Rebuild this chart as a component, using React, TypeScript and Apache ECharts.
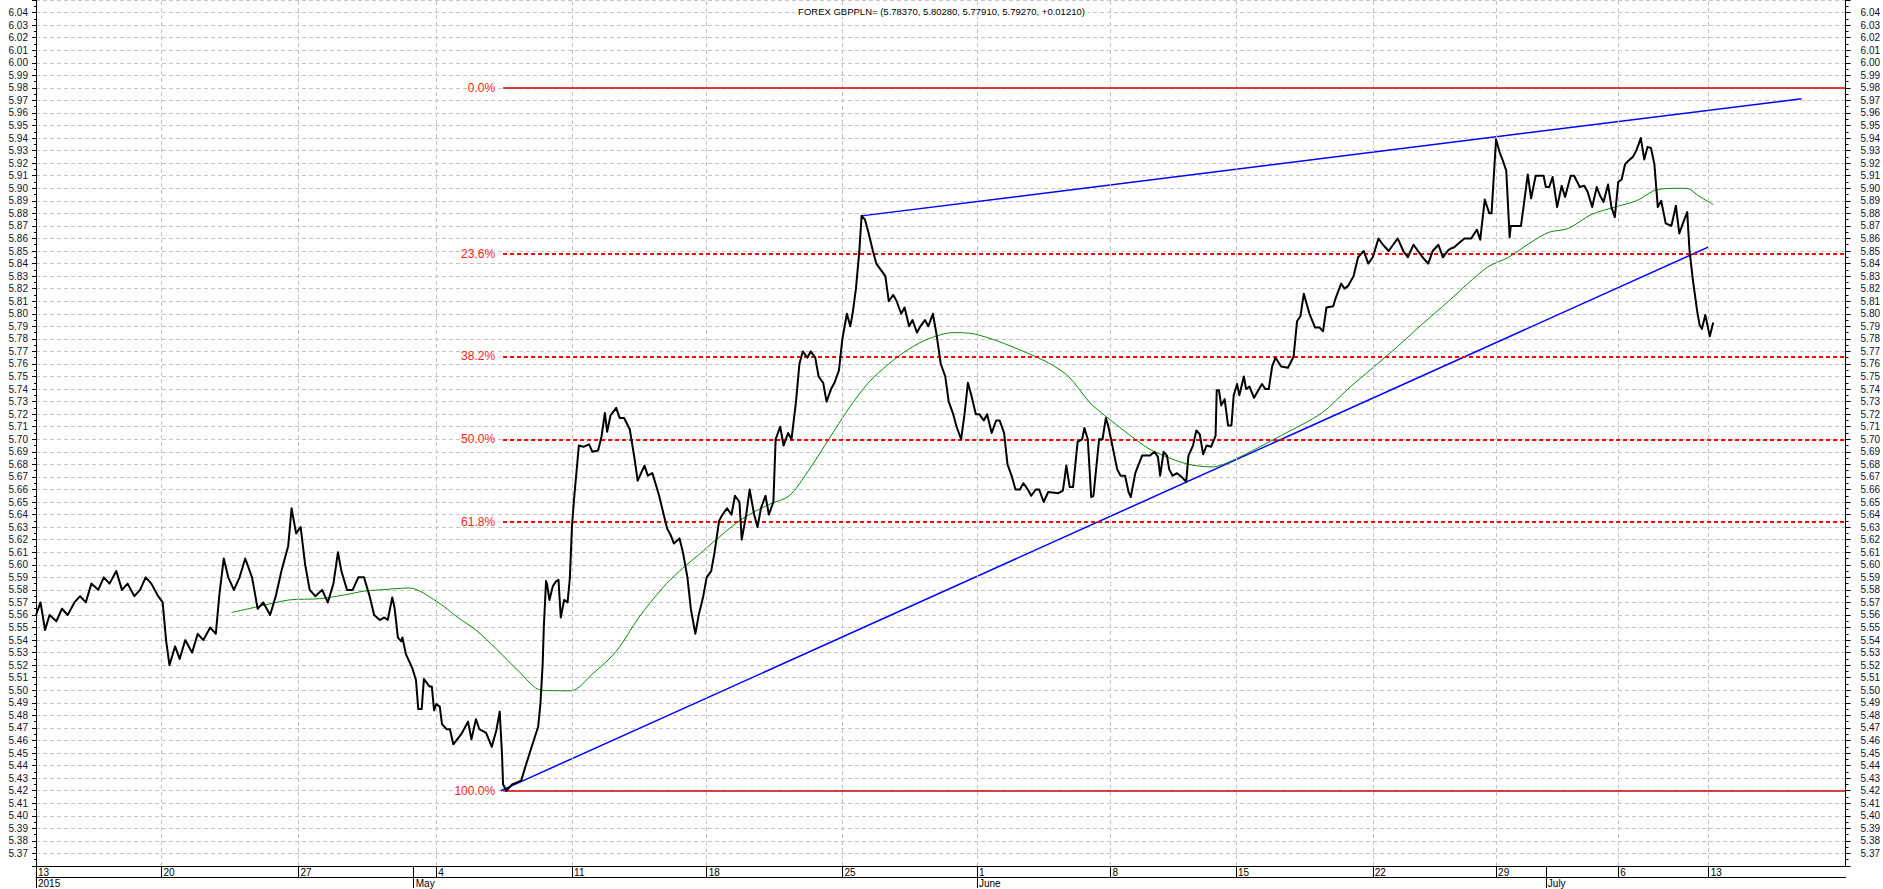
import React, { useEffect, useRef } from 'react';
import * as echarts from 'echarts';

const titleText = 'FOREX GBPPLN= (5.78370, 5.80280, 5.77910, 5.79270, +0.01210)';

// x axis: hourly bar index
const barMax = 1600;
const weekBars = [0, 111, 232, 354, 474, 593, 713, 832, 950, 1061, 1182, 1291, 1399, 1479];
const weekLabels = ['13', '20', '27', '4', '11', '18', '25', '1', '8', '15', '22', '29', '6', '13'];
const monthBars = [0, 334, 832, 1335];
const monthLabels = ['2015', 'May', 'June', 'July'];

// y axis
const yMin = 5.36;
const yMax = 6.05;
const yStep = 0.01;

// close prices [bar, value]
const price: [number, number][] = [
  [0, 5.56], [4, 5.57], [8, 5.548], [12, 5.56], [18, 5.555], [23, 5.565], [28, 5.56], [34, 5.57], [39, 5.575], [44, 5.57],
  [49, 5.585], [55, 5.58], [60, 5.59], [65, 5.585], [71, 5.595], [76, 5.58], [81, 5.585], [87, 5.575], [92, 5.58], [97, 5.59],
  [102, 5.585], [108, 5.575], [112, 5.57], [115, 5.54], [118, 5.52], [123, 5.535], [127, 5.525], [132, 5.54], [138, 5.53], [143, 5.545],
  [148, 5.54], [154, 5.55], [159, 5.545], [162, 5.575], [166, 5.605], [170, 5.59], [175, 5.58], [180, 5.59], [185, 5.605], [191, 5.59],
  [196, 5.565], [201, 5.57], [207, 5.56], [212, 5.575], [217, 5.595], [223, 5.615], [226, 5.645], [230, 5.625], [234, 5.63], [238, 5.6],
  [242, 5.58], [247, 5.575], [253, 5.58], [258, 5.57], [263, 5.585], [267, 5.61], [270, 5.595], [275, 5.58], [280, 5.58], [285, 5.59],
  [290, 5.59], [295, 5.575], [299, 5.56], [304, 5.556],
  [308, 5.558], [311, 5.556], [315, 5.574], [317, 5.566], [320, 5.542], [323, 5.539], [324, 5.542], [327, 5.529], [333, 5.517], [336, 5.508],
  [338, 5.485], [341, 5.485], [343, 5.509], [348, 5.503], [350, 5.503], [352, 5.484], [354, 5.489], [357, 5.487], [359, 5.473], [363, 5.469],
  [366, 5.469], [369, 5.457], [376, 5.465], [382, 5.475], [385, 5.461], [389, 5.477], [392, 5.469], [398, 5.466], [403, 5.455], [407, 5.468],
  [410, 5.483], [412, 5.45], [413, 5.425], [416, 5.42], [421, 5.425], [429, 5.428], [433, 5.44], [439, 5.457], [444, 5.471], [446, 5.489],
  [448, 5.521], [449, 5.55], [451, 5.587], [452, 5.584], [454, 5.572], [457, 5.583], [460, 5.587], [462, 5.588], [464, 5.558], [467, 5.572],
  [470, 5.57], [472, 5.589], [474, 5.632], [476, 5.655], [480, 5.695], [484, 5.694], [489, 5.696], [492, 5.69], [497, 5.691], [500, 5.702],
  [503, 5.721], [505, 5.706], [508, 5.719], [513, 5.725], [516, 5.717], [520, 5.717], [525, 5.708], [529, 5.686], [532, 5.667], [538, 5.679],
  [541, 5.671], [545, 5.673], [551, 5.655], [555, 5.64], [558, 5.629], [561, 5.624], [564, 5.617], [569, 5.621],
  [572, 5.61], [576, 5.59], [579, 5.565], [583, 5.545], [586, 5.56], [590, 5.575], [593, 5.59], [597, 5.595], [600, 5.61], [604, 5.635],
  [607, 5.64], [611, 5.645], [615, 5.64], [618, 5.655], [622, 5.65], [624, 5.62], [628, 5.64], [631, 5.66], [635, 5.64], [638, 5.63],
  [641, 5.645], [645, 5.655], [648, 5.64], [652, 5.65], [654, 5.7], [658, 5.71], [661, 5.695], [665, 5.705], [668, 5.7], [672, 5.73],
  [675, 5.76], [678, 5.77], [682, 5.765], [685, 5.77], [689, 5.765], [692, 5.75], [696, 5.745], [699, 5.73], [703, 5.74], [706, 5.745],
  [710, 5.755], [713, 5.78], [717, 5.8], [720, 5.79], [722, 5.8], [725, 5.82], [728, 5.85], [730, 5.878], [733, 5.875], [736, 5.865],
  [740, 5.85], [743, 5.84], [747, 5.835], [751, 5.83], [754, 5.81], [758, 5.815], [761, 5.81], [765, 5.8], [768, 5.805], [772, 5.79],
  [775, 5.795], [779, 5.785], [782, 5.79], [786, 5.795], [789, 5.79], [793, 5.8], [796, 5.785], [800, 5.76], [804, 5.75], [807, 5.73],
  [811, 5.72], [814, 5.71], [818, 5.7], [821, 5.72], [824, 5.745], [827, 5.735], [831, 5.72], [834, 5.72], [838, 5.715], [841, 5.72],
  [845, 5.705], [849, 5.715], [852, 5.715], [856, 5.705], [859, 5.68], [863, 5.67], [866, 5.66], [870, 5.66], [873, 5.665], [877, 5.66],
  [880, 5.655], [884, 5.66], [887, 5.66], [891, 5.65], [895, 5.658],
  [904, 5.657], [908, 5.659], [911, 5.679], [914, 5.662], [917, 5.662], [921, 5.698], [925, 5.7], [927, 5.709], [930, 5.7], [933, 5.654],
  [935, 5.655], [940, 5.7], [943, 5.7], [946, 5.717], [948, 5.711], [951, 5.698], [956, 5.676], [959, 5.671], [963, 5.671], [966, 5.658],
  [968, 5.654], [972, 5.673], [978, 5.687], [985, 5.687], [989, 5.69], [992, 5.686], [994, 5.671], [997, 5.69], [1000, 5.687], [1002, 5.676],
  [1005, 5.671], [1009, 5.673], [1013, 5.67], [1017, 5.666], [1019, 5.687], [1023, 5.695], [1026, 5.707], [1029, 5.704], [1032, 5.688], [1035, 5.695],
  [1039, 5.694], [1043, 5.703], [1044, 5.739], [1046, 5.739], [1048, 5.727], [1051, 5.732], [1054, 5.711], [1057, 5.711], [1059, 5.735], [1062, 5.744],
  [1064, 5.735], [1068, 5.75], [1070, 5.74], [1073, 5.742], [1077, 5.733], [1084, 5.744], [1087, 5.74], [1090, 5.74], [1093, 5.758], [1096, 5.765],
  [1101, 5.758], [1107, 5.757], [1112, 5.766], [1115, 5.794], [1118, 5.798], [1121, 5.816], [1126, 5.8], [1131, 5.789], [1135, 5.789], [1138, 5.786],
  [1141, 5.805], [1147, 5.806], [1149, 5.812], [1154, 5.824], [1157, 5.82], [1160, 5.822],
  [1165, 5.83], [1169, 5.845], [1174, 5.85], [1178, 5.84], [1182, 5.845], [1187, 5.86], [1191, 5.855], [1196, 5.85], [1200, 5.855], [1204, 5.86],
  [1209, 5.85], [1213, 5.845], [1218, 5.855], [1222, 5.85], [1226, 5.845], [1231, 5.84], [1235, 5.85], [1240, 5.855], [1244, 5.845],
  [1249, 5.851], [1251, 5.852], [1254, 5.853], [1259, 5.857], [1263, 5.86], [1269, 5.86], [1274, 5.867], [1277, 5.859], [1281, 5.891], [1285, 5.88],
  [1287, 5.88], [1291, 5.939], [1294, 5.929], [1297, 5.922], [1300, 5.914], [1303, 5.861], [1304, 5.87], [1307, 5.87], [1313, 5.87], [1316, 5.89],
  [1319, 5.911], [1322, 5.892], [1326, 5.91], [1333, 5.91], [1335, 5.901], [1338, 5.901], [1341, 5.909], [1345, 5.885], [1349, 5.902], [1352, 5.893],
  [1357, 5.91], [1360, 5.91], [1365, 5.901], [1369, 5.902], [1372, 5.897], [1376, 5.885], [1380, 5.901], [1383, 5.894], [1386, 5.889], [1390, 5.903],
  [1393, 5.885], [1396, 5.877], [1399, 5.905], [1402, 5.907], [1405, 5.919], [1408, 5.922], [1412, 5.925], [1415, 5.93], [1419, 5.94], [1422, 5.923],
  [1425, 5.933], [1428, 5.932], [1431, 5.919], [1434, 5.885], [1437, 5.89], [1441, 5.872], [1446, 5.87], [1450, 5.886], [1453, 5.864], [1457, 5.874],
  [1460, 5.881], [1462, 5.851], [1465, 5.827], [1469, 5.801], [1471, 5.791], [1473, 5.788], [1476, 5.799], [1480, 5.782], [1483, 5.793],
];

// moving average [bar, value]
const movingAvg: [number, number][] = [
  [173, 5.562], [198, 5.567], [224, 5.572], [251, 5.573], [273, 5.576], [290, 5.579], [304, 5.58], [330, 5.5815], [354, 5.571], [373, 5.558],
  [389, 5.548], [407, 5.533], [427, 5.515], [447, 5.5], [473, 5.4996], [492, 5.513], [513, 5.531], [533, 5.558], [554, 5.5815], [569, 5.595],
  [586, 5.608], [604, 5.622], [625, 5.637], [648, 5.648], [666, 5.655], [683, 5.675], [701, 5.7], [719, 5.725], [736, 5.745], [754, 5.76],
  [772, 5.772], [789, 5.78], [811, 5.785], [829, 5.784], [851, 5.778], [873, 5.77], [895, 5.761], [913, 5.75], [932, 5.729], [945, 5.719],
  [972, 5.7], [987, 5.691], [1017, 5.6805], [1040, 5.678], [1060, 5.684], [1101, 5.703], [1137, 5.721], [1160, 5.74], [1182, 5.757], [1204, 5.774],
  [1226, 5.792], [1249, 5.81], [1266, 5.824], [1284, 5.8375], [1302, 5.845], [1322, 5.857], [1338, 5.865], [1355, 5.868], [1375, 5.879], [1396, 5.885],
  [1415, 5.89], [1434, 5.899], [1455, 5.9], [1461, 5.8996], [1470, 5.894], [1483, 5.887],
];

// trend lines [bar, value]
const supportLine: [number, number][] = [[411, 5.42], [1479, 5.8533]];
const resistanceLine: [number, number][] = [[730, 5.878], [1561, 5.9713]];

// Fibonacci retracement
const fibHigh = 5.98;
const fibLow = 5.42;
const fibPercents = [0, 23.6, 38.2, 50, 61.8, 100];
const fibStartBar = 413;

const narrow = "'Liberation Sans Narrow', 'Arial Narrow', 'Liberation Sans', Arial, sans-serif";
const regular = "'Liberation Sans', Arial, sans-serif";

function yLabel(v: number): string {
  if (v < 5.365 || v > 6.045) return '';
  return v.toFixed(2);
}

function nearestLabel(v: number, bars: number[], labels: string[]): string {
  const i = bars.findIndex((b) => Math.abs(b - v) < 0.5);
  return i >= 0 ? labels[i] : '';
}

export default function App() {
  const ref = useRef<HTMLDivElement>(null);

  useEffect(() => {
    if (!ref.current) return;
    const chart = echarts.init(ref.current, undefined, { renderer: 'svg' });

    const gridDash = { color: '#c4c4c4', type: [4, 3] as any, width: 1 };

    const fibMarkData = fibPercents.map((p) => {
      const lvl = fibHigh - (p / 100) * (fibHigh - fibLow);
      const solid = p === 0 || p === 100;
      return [
        {
          coord: [fibStartBar, lvl],
          lineStyle: solid
            ? { color: '#d00000', width: 1.5, type: 'solid' }
            : { color: '#ff0000', width: 2, type: [4, 3] },
          label: {
            show: true,
            position: 'start',
            distance: 8,
            formatter: p.toFixed(1) + '%',
            color: '#ff1a1a',
            fontSize: 12,
            fontFamily: regular,
          },
        },
        { coord: [barMax, lvl] },
      ];
    });

    const option: any = {
      animation: false,
      backgroundColor: '#ffffff',
      title: {
        text: titleText,
        left: 'center',
        top: 5,
        padding: [0, 3],
        backgroundColor: '#ffffff',
        textStyle: { fontSize: 9.5, fontWeight: 'normal', color: '#000', fontFamily: narrow, lineHeight: 12 },
      },
      grid: { left: 36, right: 35, top: -1.6, bottom: 22, containLabel: false },
      xAxis: [
        {
          type: 'value',
          min: 0,
          max: barMax,
          position: 'bottom',
          axisLine: { show: true, onZero: false, lineStyle: { color: '#000', width: 1 } },
          axisTick: { show: true, inside: false, length: 11, customValues: weekBars, lineStyle: { color: '#000', width: 1 } },
          axisLabel: {
            show: true,
            customValues: weekBars,
            formatter: (v: number) => nearestLabel(v, weekBars, weekLabels),
            align: 'left',
            margin: 1,
            padding: [0, 0, 0, 2],
            fontSize: 10,
            lineHeight: 11,
            color: '#000',
            fontFamily: narrow,
          },
          splitLine: { show: false },
        },
        {
          type: 'value',
          min: 0,
          max: barMax,
          position: 'bottom',
          offset: 0,
          axisLine: { show: false },
          axisTick: { show: true, inside: false, length: 22, customValues: monthBars, lineStyle: { color: '#000', width: 1 } },
          axisLabel: {
            show: true,
            customValues: monthBars,
            formatter: (v: number) => nearestLabel(v, monthBars, monthLabels),
            align: 'left',
            margin: 12,
            padding: [0, 0, 0, 2],
            fontSize: 10,
            lineHeight: 11,
            color: '#000',
            fontFamily: narrow,
          },
          splitLine: { show: false },
        },
        {
          type: 'value',
          min: 0,
          max: barMax,
          position: 'bottom',
          offset: 11,
          axisLine: { show: true, onZero: false, lineStyle: { color: '#000', width: 1 } },
          axisTick: { show: false },
          axisLabel: { show: false },
          splitLine: { show: false },
        },
      ],
      yAxis: [
        {
          type: 'value',
          position: 'left',
          min: yMin,
          max: yMax,
          interval: yStep,
          axisLine: { show: true, onZero: false, lineStyle: { color: '#000', width: 1 } },
          axisTick: { show: true, inside: false, length: 4, lineStyle: { color: '#000' } },
          minorTick: { show: true, splitNumber: 2, length: 2, lineStyle: { color: '#000' } },
          axisLabel: { margin: 8, fontSize: 10, color: '#10102a', fontFamily: narrow, formatter: yLabel },
          splitLine: { show: true, lineStyle: gridDash },
          minorSplitLine: { show: false },
        },
        {
          type: 'value',
          position: 'right',
          min: yMin,
          max: yMax,
          interval: yStep,
          axisLine: { show: true, onZero: false, lineStyle: { color: '#000', width: 1 } },
          axisTick: { show: true, inside: false, length: 5, lineStyle: { color: '#000' } },
          minorTick: { show: true, splitNumber: 2, length: 3, lineStyle: { color: '#000' } },
          axisLabel: { margin: 15, fontSize: 10, color: '#10102a', fontFamily: narrow, formatter: yLabel },
          splitLine: { show: false },
        },
      ],
      series: [
        {
          name: 'grid',
          type: 'line',
          data: [],
          z: 1,
          silent: true,
          markLine: {
            silent: true,
            symbol: ['none', 'none'],
            label: { show: false },
            lineStyle: gridDash,
            data: weekBars.slice(1).map((b) => ({ xAxis: b })),
          },
        },
        {
          name: 'fib',
          type: 'line',
          data: [],
          z: 2,
          silent: true,
          markLine: {
            silent: true,
            symbol: ['none', 'none'],
            data: fibMarkData,
          },
        },
        {
          name: 'support',
          type: 'line',
          data: supportLine,
          z: 3,
          symbol: 'none',
          lineStyle: { color: '#0000ff', width: 1.5 },
        },
        {
          name: 'resistance',
          type: 'line',
          data: resistanceLine,
          z: 3,
          symbol: 'none',
          lineStyle: { color: '#0000ff', width: 1.5 },
        },
        {
          name: 'MA',
          type: 'line',
          data: movingAvg,
          z: 4,
          symbol: 'none',
          smooth: 0.3,
          lineStyle: { color: '#0a8a0a', width: 1 },
        },
        {
          name: 'GBPPLN',
          type: 'line',
          data: price,
          z: 5,
          symbol: 'none',
          lineStyle: { color: '#000', width: 2, join: 'round' },
        },
      ],
    };

    chart.setOption(option);
    return () => chart.dispose();
  }, []);

  return (
    <div
      ref={ref}
      style={{ position: 'absolute', left: 0, top: 0, width: 1883, height: 889, background: '#fff' }}
    />
  );
}
